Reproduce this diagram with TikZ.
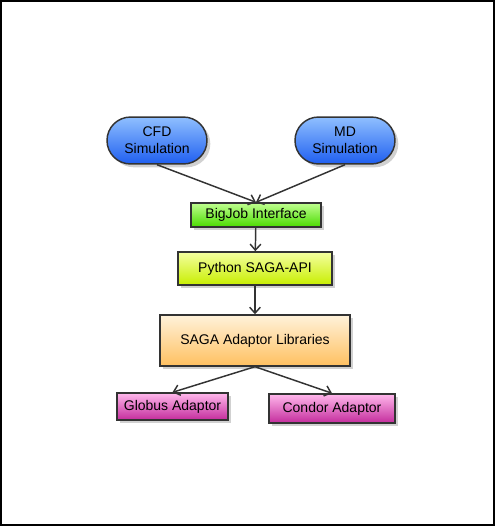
\documentclass[tikz,border=0pt]{standalone}
\usepackage{fontspec}
\setmainfont{Liberation Sans}
\usepackage{tikz}
\usetikzlibrary{arrows.meta,shadows}
\definecolor{edgegray}{HTML}{333333}
\definecolor{simtop}{HTML}{8FBFFF}
\definecolor{simbot}{HTML}{1F5FF0}
\definecolor{bjtop}{HTML}{C0FF90}
\definecolor{bjbot}{HTML}{4ADB00}
\definecolor{pytop}{HTML}{F4FFA0}
\definecolor{pybot}{HTML}{C8EE00}
\definecolor{satop}{HTML}{FFF2DA}
\definecolor{sabot}{HTML}{FFC060}
\definecolor{adtop}{HTML}{FFB8EC}
\definecolor{adbot}{HTML}{C42C9C}
\begin{document}
\begin{tikzpicture}[x=0.75pt,y=-0.75pt,
  font=\fontsize{10.5}{13}\selectfont,
  box/.style={draw=edgegray,line width=1.1pt,align=center,inner sep=0pt,
    drop shadow={shadow xshift=2.5pt,shadow yshift=-2.5pt,fill=black,opacity=0.18}},
  sim/.style={box,rounded corners=17.6pt,minimum width=75pt,minimum height=35.2pt,
    top color=simtop,bottom color=simbot},
  link/.style={draw=edgegray,line width=1.1pt,-{Straight Barb[length=4.5pt,width=8pt,line width=1.1pt]}}]
\useasboundingbox (0,0) rectangle (495,526);
\draw[black,line width=1.5pt] (1,1) rectangle (494,525);
\node[sim] (cfd) at (157,140.5) {CFD\\Simulation};
\node[sim] (md) at (345,140.5) {MD\\Simulation};
\node[box,minimum width=97.5pt,minimum height=18pt,top color=bjtop,bottom color=bjbot] (bigjob) at (256,215) {BigJob Interface};
\node[box,minimum width=115.5pt,minimum height=24.8pt,top color=pytop,bottom color=pybot] (saga) at (255,268.5) {Python SAGA-API};
\node[box,minimum width=142.5pt,minimum height=38.2pt,top color=satop,bottom color=sabot] (adaptors) at (255,340.5) {SAGA Adaptor Libraries};
\node[box,minimum width=83.2pt,minimum height=20.2pt,top color=adtop,bottom color=adbot] (globus) at (172.5,406.5) {Globus Adaptor};
\node[box,minimum width=94.5pt,minimum height=21.8pt,top color=adtop,bottom color=adbot] (condor) at (332,408.5) {Condor Adaptor};
\draw[link] (cfd.south) -- (bigjob.north);
\draw[link] (md.south) -- (bigjob.north);
\draw[link] (bigjob) -- (saga);
\draw[link] (saga) -- (adaptors);
\draw[link] (adaptors.south) -- (globus.north);
\draw[link] (adaptors.south) -- (condor.north);
\end{tikzpicture}
\end{document}
